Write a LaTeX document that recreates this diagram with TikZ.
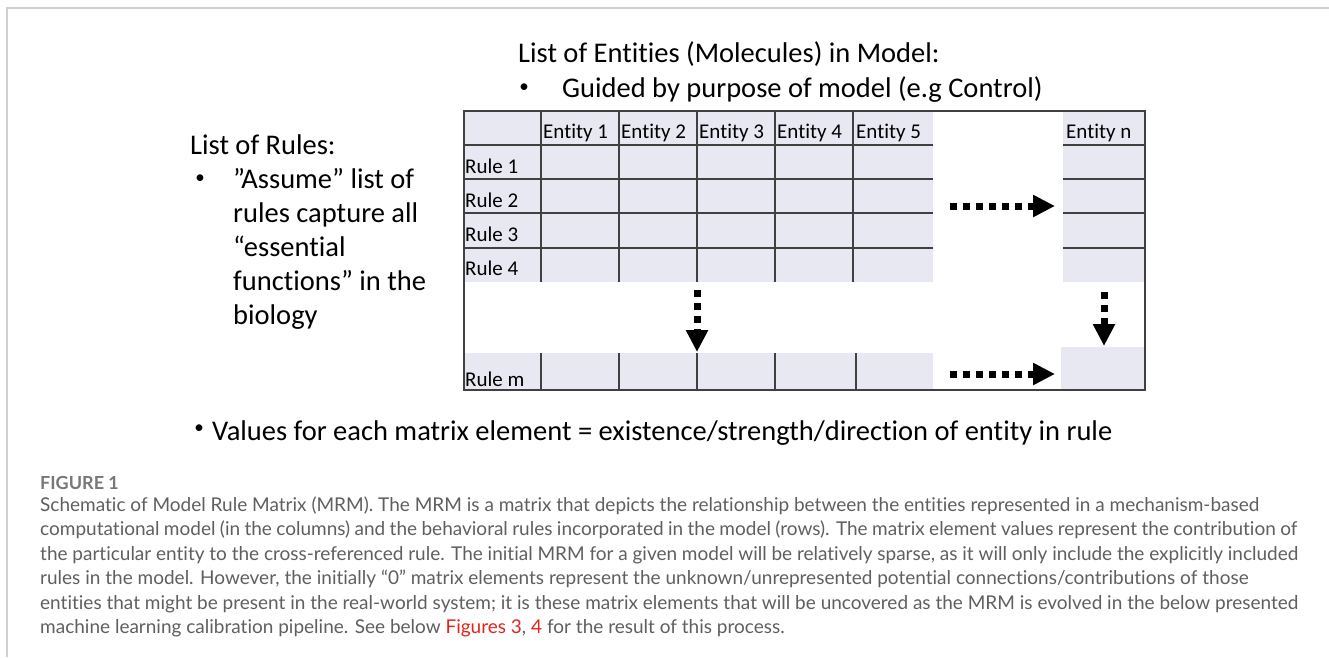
\documentclass[tikz,border=0pt]{standalone}
\usepackage{fontspec}
\setmainfont{Carlito}[Ligatures=NoCommon]
\newfontfamily\capfont{Lato}[Ligatures=NoCommon]
\usetikzlibrary{arrows.meta}
\definecolor{cellfill}{RGB}{232,232,242}
\definecolor{gridline}{RGB}{64,64,64}
\definecolor{framegray}{RGB}{208,208,208}
\definecolor{captext}{RGB}{95,95,95}
\definecolor{capred}{RGB}{226,35,26}
\tikzset{
  bigtxt/.style={font=\fontsize{28.5}{34}\selectfont, inner sep=0pt, anchor=base west},
  bul/.style={font=\fontsize{19}{24}\selectfont, inner sep=0pt, anchor=center},
  celltxt/.style={font=\fontsize{21}{24}\selectfont, inner sep=0pt, anchor=base west},
  captxt/.style={font=\capfont\fontsize{19}{24}\selectfont, text=captext, inner sep=0pt, anchor=base west},
  capbold/.style={font=\capfont\bfseries\fontsize{18}{24}\selectfont, text=captext!85, inner sep=0pt, anchor=base west},
  gridln/.style={draw=gridline, line width=1.2pt},
  dotarrow/.style={line width=7pt, dash pattern=on 7pt off 6pt, line cap=butt,
    -{Triangle[length=22pt,width=21pt]}},
}
\begin{document}
\begin{tikzpicture}[x=1pt,y=-1pt]
\useasboundingbox (0,0) rectangle (1329,657);
% frame
\draw[framegray, line width=2pt] (7,657) -- (7,7.5) -- (1329,7.5);
% table fills
\fill[cellfill] (464,111) rectangle (933,282);
\fill[cellfill] (1063,111) rectangle (1145,282);
\fill[cellfill] (464,353) rectangle (933,390);
\fill[cellfill] (1061,347) rectangle (1145,390);
% grid lines
\foreach \y in {145,179,213,248} {
  \draw[gridln] (464,\y) -- (933,\y);
  \draw[gridln] (1063,\y) -- (1145,\y);
}
\foreach \x in {541,619,697,775,853} {
  \draw[gridln] (\x,111) -- (\x,282);
}
\foreach \x in {541,619,697,775,856} {
  \draw[gridln] (\x,353) -- (\x,390);
}
\draw[draw=gridline, line width=1.6pt] (464,111) rectangle (1145,390);
% header cells
\node[celltxt] (e1) at (543,138) {Entity 1};
\node[celltxt] (e2) at (621,138) {Entity 2};
\node[celltxt] (e3) at (699,138) {Entity 3};
\node[celltxt] (e4) at (777,138) {Entity 4};
\node[celltxt] (e5) at (856,138) {Entity 5};
\node[celltxt] (en) at (1066,138) {Entity n};
\node[celltxt] (r1) at (465,173) {Rule 1};
\node[celltxt] (r2) at (465,207) {Rule 2};
\node[celltxt] (r3) at (465,241) {Rule 3};
\node[celltxt] (r4) at (465,275) {Rule 4};
\node[celltxt] (rm) at (465,386) {Rule m};
% arrows
\coordinate (ra1s) at (950,206);
\coordinate (ra1e) at (1055,206);
\coordinate (ra2s) at (950,374);
\coordinate (ra2e) at (1055,374);
\coordinate (da1s) at (697,290);
\coordinate (da1e) at (697,352);
\coordinate (da2s) at (1104,292);
\coordinate (da2e) at (1104,346);
\draw[dotarrow] (ra1s) -- (ra1e);
\draw[dotarrow] (ra2s) -- (ra2e);
\draw[dotarrow] (da1s) -- (da1e);
\draw[dotarrow] (da2s) -- (da2e);
% top text
\node[bigtxt] (t1) at (518,62) {List of Entities (Molecules) in Model:};
\node[bul] (t2b) at (524,88) {•};
\node[bigtxt] (t2) at (562,97) {Guided by purpose of model (e.g Control)};
% left text
\node[bigtxt] (l0) at (190,154) {List of Rules:};
\node[bul] (lb) at (200,179) {•};
\node[bigtxt] (l1) at (233,188) {”Assume” list of};
\node[bigtxt] (l2) at (233,222) {rules capture all};
\node[bigtxt] (l3) at (233,256) {“essential};
\node[bigtxt] (l4) at (233,290) {functions” in the};
\node[bigtxt] (l5) at (233,324) {biology};
% bottom bullet
\node[bul] (bb) at (199,429) {•};
\node[bigtxt] (bt) at (212,440) {Values for each matrix element = existence/strength/direction of entity in rule};
% caption
\node[capbold] (fig) at (40,489) {FIGURE 1};
\node[captxt] (c1) at (40,511) {Schematic of Model Rule Matrix (MRM). The MRM is a matrix that depicts the relationship between the entities represented in a mechanism-based};
\node[captxt] (c2) at (40,535) {\makebox[1257pt][s]{computational model (in the columns) and the behavioral rules incorporated in the model (rows). The matrix element values represent the contribution of}};
\node[captxt] (c3) at (40,560) {\makebox[1258pt][s]{the particular entity to the cross-referenced rule. The initial MRM for a given model will be relatively sparse, as it will only include the explicitly included}};
\node[captxt] (c4) at (40,584) {rules in the model. However, the initially “0” matrix elements represent the unknown/unrepresented potential connections/contributions of those};
\node[captxt] (c5) at (40,609) {\makebox[1258pt][s]{entities that might be present in the real-world system; it is these matrix elements that will be uncovered as the MRM is evolved in the below presented}};
\node[captxt] (c6) at (40,633) {machine learning calibration pipeline. See below \textcolor{capred}{Figures 3}, \textcolor{capred}{4} for the result of this process.};
\end{tikzpicture}
\end{document}
